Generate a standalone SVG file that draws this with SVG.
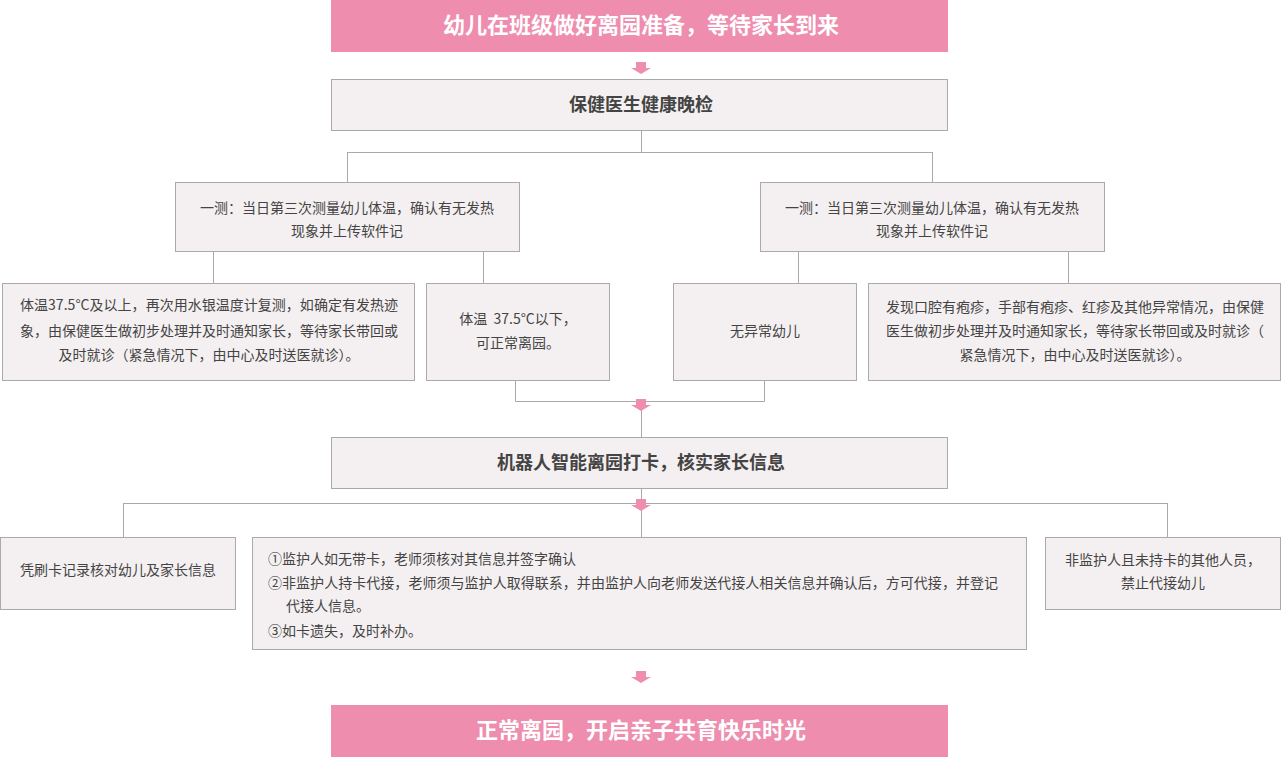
<svg xmlns="http://www.w3.org/2000/svg" xmlns:xlink="http://www.w3.org/1999/xlink" width="1281" height="757" viewBox="0 0 1281 757">
<style>
.pink{fill:#ee8dae;}
.box{fill:#f4f0f1;stroke:#aaaaaa;stroke-width:1;}
.ttl{font-family:"Noto Sans CJK SC","Microsoft YaHei",sans-serif;font-size:22px;font-weight:bold;fill:#ffffff;text-anchor:middle;}
.hd{font-family:"Noto Sans CJK SC","Microsoft YaHei",sans-serif;font-size:18px;font-weight:bold;fill:#444444;text-anchor:middle;}
.t{font-family:"Noto Sans CJK SC","Microsoft YaHei",sans-serif;font-size:14px;fill:#444444;text-anchor:middle;}
.tl{font-family:"Noto Sans CJK SC","Microsoft YaHei",sans-serif;font-size:14px;fill:#444444;}
.ln{fill:none;stroke:#aaaaaa;stroke-width:1;}
.arr{fill:#ee8dae;}
</style>
<defs>
<path id="arr" d="M-5,0 H5 V6 H10 L0,12 L-10,6 H-5 Z"/>
</defs>
<g id="connectors">
<path class="ln" d="M641.5,130 V152.5 M347.5,152.5 H932.5 M347.5,152 V182 M932.5,152 V182"/>
<path class="ln" d="M213.5,251 V283 M483.5,251 V283 M798.5,251 V283 M1068.5,251 V283"/>
<path class="ln" d="M515.5,380 V401.5 H764.5 V380 M641.5,401 V437"/>
<path class="ln" d="M641.5,488 V537 M123.5,503.5 H1167.5 M123.5,503 V537 M1167.5,503 V537"/>
<use xlink:href="#arr" href="#arr" class="arr" x="641" y="62"/>
<use xlink:href="#arr" href="#arr" class="arr" x="641" y="399"/>
<use xlink:href="#arr" href="#arr" class="arr" x="641" y="499"/>
<use xlink:href="#arr" href="#arr" class="arr" x="641" y="671"/>
</g>
<g id="n-start">
<rect class="pink" x="331" y="0" width="617" height="52"/>
<text class="ttl" x="641" y="33">幼儿在班级做好离园准备，等待家长到来</text>
</g>
<g id="n-check">
<rect class="box" x="331.5" y="79.5" width="616" height="51"/>
<text class="hd" x="641" y="111">保健医生健康晚检</text>
</g>
<g id="n-measure-left">
<rect class="box" x="175.5" y="182.5" width="344" height="69"/>
<text class="t" x="347" y="213">一测：当日第三次测量幼儿体温，确认有无发热</text>
<text class="t" x="347" y="236">现象并上传软件记</text>
</g>
<g id="n-measure-right">
<rect class="box" x="760.5" y="182.5" width="344" height="69"/>
<text class="t" x="932" y="213">一测：当日第三次测量幼儿体温，确认有无发热</text>
<text class="t" x="932" y="236">现象并上传软件记</text>
</g>
<g id="n-fever">
<rect class="box" x="2.5" y="283.5" width="412" height="97"/>
<text class="t" x="209" y="310" textLength="378">体温37.5°C及以上，再次用水银温度计复测，如确定有发热迹</text>
<text class="t" x="209" y="336">象，由保健医生做初步处理并及时通知家长，等待家长带回或</text>
<text class="t" x="209" y="360">及时就诊（紧急情况下，由中心及时送医就诊）。</text>
</g>
<g id="n-normal-temp">
<rect class="box" x="426.5" y="283.5" width="183" height="97"/>
<text class="t" x="518" y="324" xml:space="preserve">体温  37.5°C以下，</text>
<text class="t" x="518" y="348">可正常离园。</text>
</g>
<g id="n-no-abnormal">
<rect class="box" x="673.5" y="283.5" width="183" height="97"/>
<text class="t" x="765" y="336">无异常幼儿</text>
</g>
<g id="n-abnormal">
<rect class="box" x="868.5" y="283.5" width="412" height="97"/>
<text class="t" x="1075" y="312">发现口腔有疱疹，手部有疱疹、红疹及其他异常情况，由保健</text>
<text class="t" x="1075" y="336">医生做初步处理并及时通知家长，等待家长带回或及时就诊（</text>
<text class="t" x="1075" y="360">紧急情况下，由中心及时送医就诊）。</text>
</g>
<g id="n-robot">
<rect class="box" x="331.5" y="437.5" width="616" height="51"/>
<text class="hd" x="641" y="469">机器人智能离园打卡，核实家长信息</text>
</g>
<g id="n-card">
<rect class="box" x="0.5" y="537.5" width="235" height="72"/>
<text class="t" x="118" y="575">凭刷卡记录核对幼儿及家长信息</text>
</g>
<g id="n-rules">
<rect class="box" x="252.5" y="537.5" width="774" height="112"/>
<text class="tl" x="268" y="564">①监护人如无带卡，老师须核对其信息并签字确认</text>
<text class="tl" x="268" y="588" textLength="730">②非监护人持卡代接，老师须与监护人取得联系，并由监护人向老师发送代接人相关信息并确认后，方可代接，并登记</text>
<text class="tl" x="286" y="611">代接人信息。</text>
<text class="tl" x="268" y="636">③如卡遗失，及时补办。</text>
</g>
<g id="n-forbid">
<rect class="box" x="1045.5" y="537.5" width="235" height="72"/>
<text class="t" x="1163" y="565">非监护人且未持卡的其他人员，</text>
<text class="t" x="1163" y="588">禁止代接幼儿</text>
</g>
<g id="n-end">
<rect class="pink" x="331" y="705" width="617" height="52"/>
<text class="ttl" x="641" y="738">正常离园，开启亲子共育快乐时光</text>
</g>
</svg>
